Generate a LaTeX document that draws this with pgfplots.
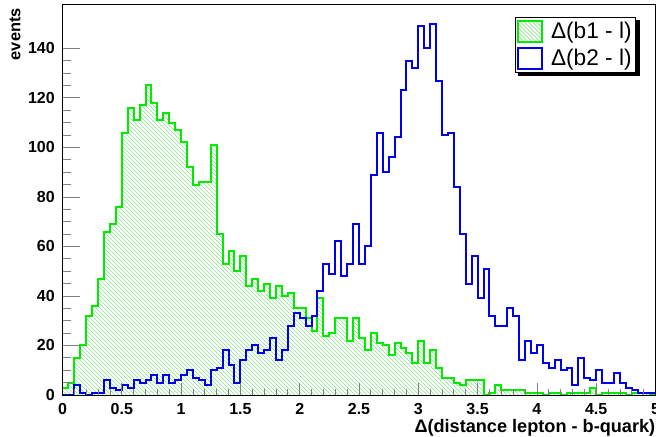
\documentclass[border=0pt]{standalone}
\usepackage{fontspec}
\setmainfont{Liberation Sans}
\usepackage{pgfplots}
\usepackage{pgfplotstable}
\pgfplotsset{compat=1.18}
\usetikzlibrary{patterns}
\definecolor{rgreen}{RGB}{0,235,0}
\definecolor{rblue}{RGB}{0,0,235}
\definecolor{hatch}{RGB}{140,226,140}

\pgfplotstableread{
x g b
0 3 0
0.05 5 0
0.1 15 4
0.15 20 1
0.2 32 0
0.25 36 1
0.3 47 1
0.35 66 6
0.4 69 3
0.45 76 2
0.5 106 4
0.55 116 3
0.6 111 6
0.65 117 5
0.7 125 6
0.75 118 8
0.8 111 5
0.85 114 8
0.9 110 5
0.95 107 6
1 102 8
1.05 92 10
1.1 85 7
1.15 86 6
1.2 86 4
1.25 101 10
1.3 65 11
1.35 53 18
1.4 58 12
1.45 50 5
1.5 56 14
1.55 44 18
1.6 47 20
1.65 42 17
1.7 45 18
1.75 39 23
1.8 44 14
1.85 40 18
1.9 41 28
1.95 35 33
2 35 31
2.05 31 28
2.1 26 32
2.15 39 42
2.2 24 53
2.25 25 49
2.3 31 62
2.35 31 48
2.4 22 53
2.45 31 69
2.5 23 53
2.55 18 60
2.6 25 89
2.65 21 106
2.7 20 90
2.75 16 96
2.8 21 104
2.85 19 123
2.9 17 135
2.95 13 132
3 22 149
3.05 13 140
3.1 18 150
3.15 11 127
3.2 7 105
3.25 7 106
3.3 5 84
3.35 4 65
3.4 6 45
3.45 6 56
3.5 6 39
3.55 0 51
3.6 1 32
3.65 4 28
3.7 2 28
3.75 2 35
3.8 2 32
3.85 2 14
3.9 1 22
3.95 1 17
4 1 20
4.05 0 13
4.1 1 11
4.15 1 14
4.2 0 10
4.25 1 11
4.3 1 4
4.35 1 15
4.4 1 7
4.45 3 6
4.5 0 10
4.55 1 5
4.6 1 5
4.65 1 9
4.7 1 5
4.75 0 3
4.8 1 2
4.85 1 1
4.9 1 1
4.95 0 1
5 0 1
}\histdata

\begin{document}
\begin{tikzpicture}
\begin{axis}[
  name=ax, at={(0,0)}, anchor=south west,
  scale only axis, width=444.75pt, height=292.5pt,
  xmin=0, xmax=5, ymin=0, ymax=157.5,
  axis on top,
  axis line style={line width=0.75pt},
  tick align=inside, xtick pos=bottom, ytick pos=left,
  xtick={0,0.5,1,1.5,2,2.5,3,3.5,4,4.5,5}, minor x tick num=4,
  ytick={0,20,40,60,80,100,120,140}, minor y tick num=3,
  xtick style={line width=0.6pt, /pgfplots/major tick length=8.8pt, /pgfplots/minor tick length=4.4pt},
  ytick style={line width=0.6pt, /pgfplots/major tick length=13.3pt, /pgfplots/minor tick length=6.7pt},
  ticklabel style={font=\bfseries\fontsize{12}{14}\selectfont},
  /pgf/number format/assume math mode=true,
  xticklabel style={inner sep=0pt, yshift=-6pt},
  yticklabel style={inner sep=0pt, xshift=-5.6pt},
  legend cell align=left,
  legend style={name=leg, at={(0.763,0.969)}, anchor=north west, draw=black, line width=0.6pt,
    fill=white, font=\fontsize{17}{19}\selectfont, inner xsep=1pt, inner ysep=1.5pt,
    row sep=2.4pt},
]
\addplot[const plot, draw=none, pattern=north west lines, pattern color=hatch, forget plot]
  table[x=x, y=g] {\histdata} \closedcycle;
\addplot[const plot, rgreen, line width=1.5pt, forget plot] table[x=x, y=g] {\histdata};
\addplot[const plot, rblue, line width=1.5pt, forget plot] table[x=x, y=b] {\histdata};

\addlegendimage{legend image code/.code={%
  \path[draw=none, fill=none] (0pt,0pt) rectangle (23pt,0.1pt);
  \begin{scope}
  \clip (0pt,-8.1pt) rectangle (18pt,8.1pt);
  \foreach \k in {-8,...,8} {\draw[hatch, line width=0.45pt] ({\k*3pt-9pt},9pt) -- ({\k*3pt+9pt},-9pt);}
  \end{scope}
  \draw[rgreen, line width=1.5pt, fill=none] (0pt,-8.1pt) rectangle (18pt,8.1pt);}}
\addlegendentry{Δ(b1 - l)}
\addlegendimage{legend image code/.code={%
  \path[draw=none, fill=none] (0pt,0pt) rectangle (23pt,0.1pt);
  \draw[rblue, line width=1.5pt, fill=white] (0pt,-8.1pt) rectangle (18pt,8.1pt);}}
\addlegendentry{Δ(b2 - l)}
\end{axis}
\fill[black] ([xshift=0.3pt, yshift=-2.5pt]leg.north east) rectangle ([xshift=2.8pt, yshift=-2.8pt]leg.south east);
\fill[black] ([xshift=2.5pt, yshift=-0.3pt]leg.south west) rectangle ([xshift=2.8pt, yshift=-2.8pt]leg.south east);
\node[rotate=90, anchor=east, inner sep=0pt, font=\bfseries\fontsize{12.3}{14}\selectfont]
  at ([xshift=-35.6pt, yshift=-2.25pt]ax.north west) {events};
\node[anchor=north east, inner sep=0pt, font=\bfseries\fontsize{13.6}{16}\selectfont]
  at ([yshift=-18pt]ax.south east) {Δ(distance lepton - b-quark)};
\pgfresetboundingbox
\path[use as bounding box] (-46.875pt,-30.75pt) rectangle (445.125pt,296.25pt);
\end{tikzpicture}
\end{document}
